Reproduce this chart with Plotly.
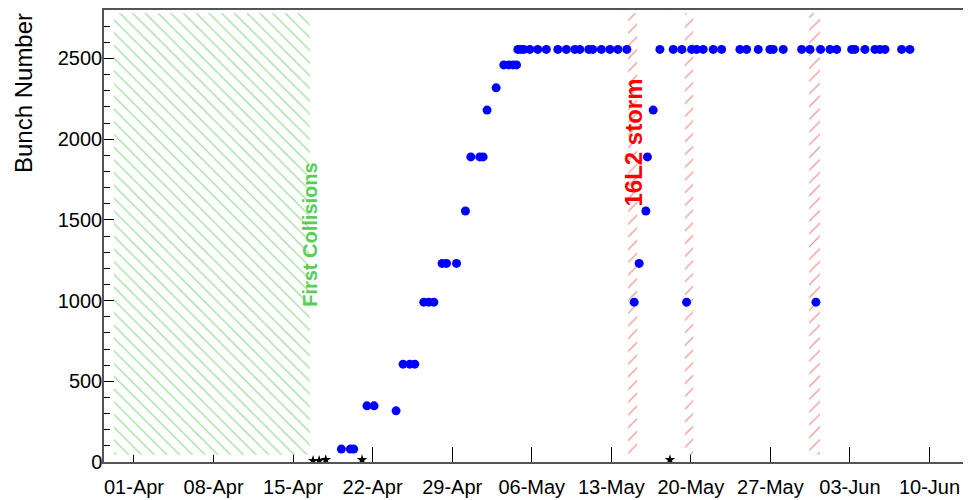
import pandas as pd
import plotly.graph_objects as go

# ---------------- data ----------------
blue_dates = [
    "2018-04-19 06:00", "2018-04-20 01:00", "2018-04-20 08:00",
    "2018-04-21 12:00", "2018-04-22 03:00", "2018-04-24 01:30",
    "2018-04-24 16:20", "2018-04-25 06:30", "2018-04-25 17:00",
    "2018-04-26 12:00", "2018-04-26 22:30", "2018-04-27 09:10",
    "2018-04-28 02:40", "2018-04-28 12:00", "2018-04-29 09:10",
    "2018-04-30 04:00", "2018-04-30 15:20", "2018-05-01 10:20",
    "2018-05-01 17:20", "2018-05-02 01:40", "2018-05-02 20:50",
    "2018-05-03 13:00", "2018-05-03 23:30", "2018-05-04 08:40",
    "2018-05-04 15:50",
    "2018-05-04 18:40", "2018-05-05 01:00", "2018-05-05 07:10",
    "2018-05-05 20:00", "2018-05-06 12:40", "2018-05-07 06:50",
    "2018-05-08 07:10", "2018-05-09 01:10", "2018-05-09 19:00",
    "2018-05-10 05:30", "2018-05-11 00:30", "2018-05-11 08:50",
    "2018-05-12 03:00", "2018-05-12 21:10", "2018-05-13 14:00",
    "2018-05-14 08:50",
    "2018-05-15 00:20", "2018-05-15 10:50", "2018-05-16 01:00",
    "2018-05-16 04:20", "2018-05-16 16:30",
    "2018-05-17 06:40", "2018-05-18 10:50", "2018-05-19 05:00",
    "2018-05-19 15:00",
    "2018-05-20 01:40", "2018-05-20 12:10", "2018-05-21 02:10",
    "2018-05-21 23:20", "2018-05-22 17:00", "2018-05-24 07:40",
    "2018-05-24 21:50", "2018-05-25 22:20", "2018-05-26 23:00",
    "2018-05-27 06:00", "2018-05-28 03:10", "2018-05-29 18:00",
    "2018-05-30 11:30", "2018-05-31 00:10", "2018-05-31 10:00",
    "2018-06-01 05:50", "2018-06-01 20:00", "2018-06-03 03:40",
    "2018-06-03 10:30", "2018-06-04 07:40", "2018-06-05 04:50",
    "2018-06-05 15:20", "2018-06-06 02:00", "2018-06-07 13:10",
    "2018-06-08 06:40",
]
blue_values = [
    80, 80, 80,
    348, 348, 317,
    606, 606, 606,
    990, 990, 990,
    1230, 1230, 1230,
    1555, 1890, 1890,
    1890, 2180, 2318,
    2460, 2460, 2460,
    2460,
    2556, 2556, 2556,
    2556, 2556, 2556,
    2556, 2556, 2556,
    2556, 2556, 2556,
    2556, 2556, 2556,
    2556,
    990, 1230, 1555,
    1890, 2180,
    2556, 2556, 2556,
    990,
    2556, 2556, 2556,
    2556, 2556, 2556,
    2556, 2556, 2556,
    2556, 2556, 2556,
    2556, 990, 2556,
    2556, 2556, 2556,
    2556, 2556, 2556,
    2556, 2556, 2556,
    2556,
]

black_dates = ["2018-04-16 18:10", "2018-04-17 07:00", "2018-04-17 21:00",
               "2018-04-21 01:40", "2018-05-18 03:50"]
black_values = [8, 8, 14, 14, 14]

# hatched periods
collision_start = ["2018-03-30 05:50"]
collision_end = ["2018-04-16 11:20"]
storm_start = ["2018-05-14 11:40", "2018-05-19 11:30", "2018-05-30 10:00"]
storm_end = ["2018-05-15 06:40", "2018-05-20 05:00", "2018-05-31 08:40"]
band_bottom = 45
band_top = 2780

x_range = ["2018-03-29 08:40", "2018-06-13 15:40"]
y_range = [0, 2800]

FONT = "Liberation Sans, Arial, Helvetica, sans-serif"


def band_geometry(starts, ends):
    s = pd.to_datetime(pd.Series(starts))
    e = pd.to_datetime(pd.Series(ends))
    centers = (s + (e - s) / 2).dt.strftime("%Y-%m-%d %H:%M:%S").tolist()
    widths = ((e - s).dt.total_seconds() * 1000).tolist()
    return centers, widths


fig = go.Figure()

gc, gw = band_geometry(collision_start, collision_end)
fig.add_trace(go.Bar(
    x=gc, y=[band_top - band_bottom] * len(gc), base=[band_bottom] * len(gc),
    width=gw,
    marker=dict(color="white", line=dict(width=0),
                pattern=dict(shape="\\", fgcolor="#33c433", size=9,
                             solidity=0.14, fillmode="overlay")),
    hoverinfo="skip", showlegend=False,
))

rc, rw = band_geometry(storm_start, storm_end)
fig.add_trace(go.Bar(
    x=rc, y=[band_top - band_bottom] * len(rc), base=[band_bottom] * len(rc),
    width=rw,
    marker=dict(color="white", line=dict(width=0),
                pattern=dict(shape="/", fgcolor="#ff0000", size=9,
                             solidity=0.13, fillmode="overlay")),
    hoverinfo="skip", showlegend=False,
))

fig.add_trace(go.Scatter(
    x=blue_dates, y=blue_values, mode="markers",
    marker=dict(symbol="circle", size=9, color="#0000ff"),
    showlegend=False,
))
fig.add_trace(go.Scatter(
    x=black_dates, y=black_values, mode="markers",
    marker=dict(symbol="star", size=8, color="black"),
    showlegend=False,
))

fig.add_annotation(
    x=collision_end[0], y=1406, xref="x", yref="y",
    text="<b>First Collisions</b>", textangle=-90, showarrow=False,
    font=dict(family=FONT, size=20, color="#55d055"),
    xanchor="center", yanchor="middle", xshift=0,
)
fig.add_annotation(
    x=storm_start[0], y=1980, xref="x", yref="y",
    text="<b>16L2 storm</b>", textangle=-90, showarrow=False,
    font=dict(family=FONT, size=24, color="#ff0000"),
    xanchor="center", yanchor="middle", xshift=5,
)
fig.add_annotation(
    x=-0.0934, y=1, xref="paper", yref="paper",
    text="Bunch Number", textangle=-90, showarrow=False,
    font=dict(family=FONT, size=24, color="black"),
    xanchor="center", yanchor="top", yshift=-1,
)

# the page body has an 8px margin, so the figure is drawn 8px smaller
fig.update_layout(
    width=963, height=492,
    margin=dict(l=96, r=0, t=2, b=38, pad=0, autoexpand=False),
    paper_bgcolor="white", plot_bgcolor="white",
    barmode="overlay",
    font=dict(family=FONT, size=20, color="black"),
    xaxis=dict(
        type="date", range=x_range, tick0="2018-04-01", dtick=7 * 86400000,
        tickformat="%d-%b", ticks="inside", ticklen=15, tickwidth=1,
        tickcolor="black", showline=True, linecolor="#555555", linewidth=1.5,
        mirror=True, showgrid=False, zeroline=False, layer="below traces",
        automargin=False, ticklabelstandoff=6,
        tickfont=dict(family=FONT, size=20, color="black"),
    ),
    yaxis=dict(
        range=y_range, dtick=500, tick0=0, ticks="inside", ticklen=10,
        tickwidth=1, tickcolor="black", showline=True, linecolor="#555555",
        linewidth=1.5, showgrid=False, zeroline=False, layer="below traces",
        automargin=False, ticklabelstandoff=-4,
        minor=dict(dtick=100, ticks="inside", ticklen=6, tickcolor="black",
                   showgrid=False),
        tickfont=dict(family=FONT, size=20, color="black"),
    ),
)

fig.write_html("out.html")
